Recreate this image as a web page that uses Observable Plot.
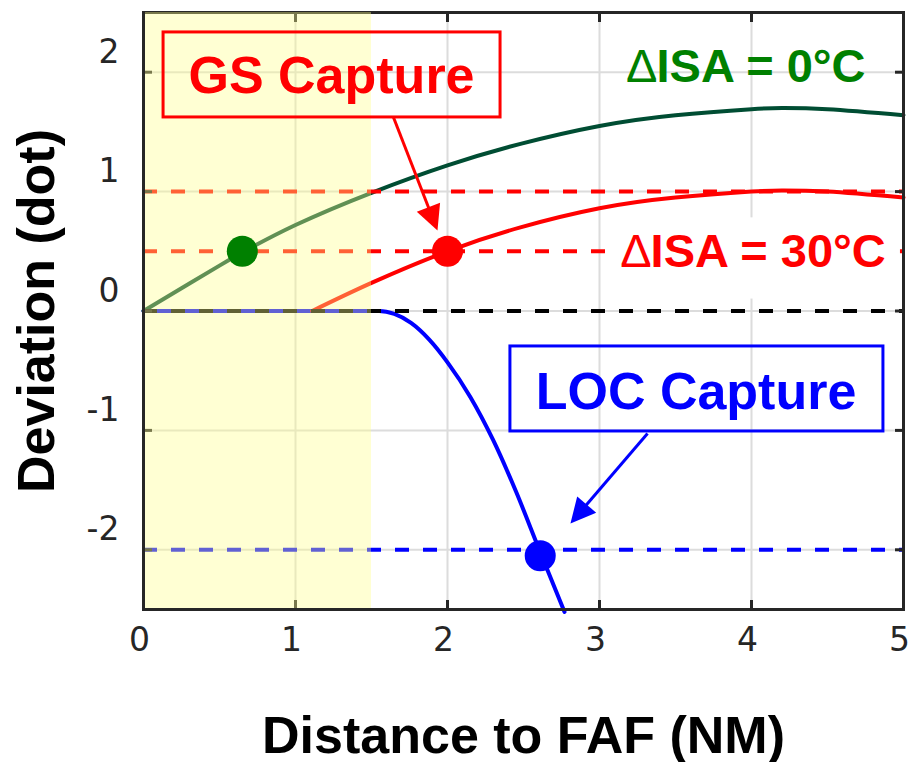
<!DOCTYPE html>
<html><head><meta charset="utf-8">
<script src="https://cdn.jsdelivr.net/npm/d3@7"></script>
<script src="https://cdn.jsdelivr.net/npm/@observablehq/plot@0.6"></script>
<style>body{margin:0;background:#fff} svg{display:block}</style>
</head><body><div id="chart"></div>
<script>
// ---- data ----
const xDomain = [0, 5];
const yDomain = [-2.5, 2.5];
const xTicks = [0, 1, 2, 3, 4, 5];
const yTicks = [-2, -1, 0, 1, 2];
const gridXValues = [1, 2, 3, 4];
const gridYValues = [-2, -1, 0, 1, 2];

// Delta ISA = 0 C trajectory
const isa0X = [0, 0.25, 0.5, 0.65, 1.0, 1.5, 2.0, 2.48, 3.0, 3.5, 4.0, 4.2, 4.5, 5.0];
const isa0Y = [0, 0.19, 0.38, 0.49, 0.72, 0.99, 1.22, 1.40, 1.55, 1.64, 1.69, 1.70, 1.69, 1.64];
// Delta ISA = 30 C trajectory
const isa30X = [1.11, 1.5, 2.0, 2.48, 3.0, 3.5, 4.0, 4.2, 4.5, 5.0];
const isa30Y = [0, 0.235, 0.5, 0.70, 0.86, 0.95, 1.0, 1.01, 1.0, 0.95];
// Localizer deviation
const locX = [0, 1.0, 1.55, 1.65, 1.76, 1.88, 2.0, 2.15, 2.30, 2.45, 2.61, 2.77];
const locY = [0, 0, 0, -0.025, -0.10, -0.24, -0.43, -0.72, -1.08, -1.51, -2.02, -2.52];

// dashed threshold lines
const thresholdY = [1.0, 0.5, -2.0, 0];
const thresholdColor = ["#ff0000", "#ff0000", "#0000ff", "#000000"];

// capture points
const captureX = [0.65, 2.0, 2.61];
const captureY = [0.5, 0.5, -2.05];
const captureColor = ["#008000", "#ff0000", "#0000ff"];

// shaded region
const shadeX = [0, 1.5];

// annotations
const boxNames = ["GS Capture", "LOC Capture"];
const boxColor = ["#ff0000", "#0000ff"];
const boxX1 = [0.132, 2.414], boxX2 = [2.349, 4.868];
const boxY1 = [1.621, -1.009], boxY2 = [2.333, -0.297];
const boxTextX = [1.237, 3.635], boxTextY = [1.822, -0.817];
const arrowStartX = [1.645, 3.316], arrowStartY = [1.621, -1.026];
const arrowTipX = [1.934, 2.809], arrowTipY = [0.674, -1.780];

const isaLabels = ["ISA = 0°C", "ISA = 30°C"];
const isaColor = ["#008000", "#ff0000"];
const isaX = [3.375, 3.336];
const isaY = [1.914, 0.367];
const isaBgX = [3.06, 4.98], isaBgY = [0.10, 0.78];

// ---- layout ----
const W = 911, H = 762, mL = 143, mR = 8, mT = 12, mB = 153;
const kx = (W - mL - mR) / (xDomain[1] - xDomain[0]);
const ky = (H - mT - mB) / (yDomain[1] - yDomain[0]);

const pts = (xs, ys) => xs.map((x, i) => ({x, y: ys[i]}));
const thresholds = thresholdY.map((y, i) => ({y, c: thresholdColor[i]}));
const captures = captureX.map((x, i) => ({x, y: captureY[i], c: captureColor[i]}));
const boxes = boxNames.map((t, i) => ({t, c: boxColor[i], x1: boxX1[i], x2: boxX2[i], y1: boxY1[i], y2: boxY2[i], tx: boxTextX[i], ty: boxTextY[i]}));
const headLen = 24;
const arrows = boxNames.map((t, i) => {
  const dxp = (arrowTipX[i] - arrowStartX[i]) * kx;
  const dyp = -(arrowTipY[i] - arrowStartY[i]) * ky;
  const len = Math.hypot(dxp, dyp);
  const f = 1 - (headLen - 2) / len;
  return {c: boxColor[i], x1: arrowStartX[i], y1: arrowStartY[i],
    x2: arrowStartX[i] + (arrowTipX[i] - arrowStartX[i]) * f,
    y2: arrowStartY[i] + (arrowTipY[i] - arrowStartY[i]) * f,
    tx: arrowTipX[i], ty: arrowTipY[i],
    rot: Math.atan2(dxp, -dyp) * 180 / Math.PI};
});
const isaTexts = isaLabels.map((t, i) => ({t, c: isaColor[i], x: isaX[i], y: isaY[i]}));

const arrowHead = {
  draw(ctx, size) {
    const r = Math.sqrt(size / Math.PI);
    const w = 2.6 * r, h = 2.6 * r;
    ctx.moveTo(0, 0); ctx.lineTo(-w / 2, h); ctx.lineTo(w / 2, h); ctx.closePath();
  }
};

const AX = "#262626";
const SANS = "Liberation Sans, Arial, sans-serif";
const TICKFONT = "DejaVu Sans, Verdana, sans-serif";

const chart = Plot.plot({
  width: W, height: H,
  marginLeft: mL, marginRight: mR, marginTop: mT, marginBottom: mB,
  style: {fontFamily: TICKFONT, fontSize: "33px", color: AX, background: "#fff", overflow: "visible"},
  x: {domain: xDomain},
  y: {domain: yDomain},
  marks: [
    Plot.gridX(gridXValues, {stroke: "#dcdcdc", strokeOpacity: 1, strokeWidth: 2}),
    Plot.gridY(gridYValues, {stroke: "#dcdcdc", strokeOpacity: 1, strokeWidth: 2}),
    Plot.line(pts(locX, locY), {x: "x", y: "y", stroke: "#0000ff", strokeWidth: 4, curve: "monotone-x"}),
    Plot.line(pts(isa0X, isa0Y), {x: "x", y: "y", stroke: "#004d33", strokeWidth: 4, curve: "natural"}),
    Plot.line(pts(isa30X, isa30Y), {x: "x", y: "y", stroke: "#ff0000", strokeWidth: 4, curve: "natural"}),
    Plot.ruleY(thresholds, {y: "y", stroke: "c", strokeWidth: 4, strokeDasharray: "14,14"}),
    // inward ticks on all sides
    Plot.axisX(xTicks, {anchor: "bottom", tickSize: -9, tickFormat: () => "", label: null, stroke: AX, strokeWidth: 3}),
    Plot.axisX(xTicks, {anchor: "top", tickSize: -9, tickFormat: () => "", label: null, stroke: AX, strokeWidth: 3}),
    Plot.axisY(yTicks, {anchor: "left", tickSize: -9, tickFormat: () => "", label: null, stroke: AX, strokeWidth: 3}),
    Plot.axisY(yTicks, {anchor: "right", tickSize: -9, tickFormat: () => "", label: null, stroke: AX, strokeWidth: 3}),
    Plot.frame({stroke: AX, strokeWidth: 3}),
    // shaded zone
    Plot.rect([{x1: shadeX[0], x2: shadeX[1], y1: yDomain[0], y2: yDomain[1]}], {x1: "x1", x2: "x2", y1: "y1", y2: "y2", fill: "#ffff8c", fillOpacity: 0.38}),
    Plot.ruleX([xDomain[0]], {stroke: AX, strokeWidth: 3}),
    Plot.ruleY([yDomain[0]], {stroke: AX, strokeWidth: 3}),
    // tick labels
    Plot.axisX(xTicks, {anchor: "bottom", tickSize: 0, tickPadding: 18, dx: -4, tickFormat: d => String(d), label: null, fill: AX, fontSize: 33, fontFamily: TICKFONT}),
    Plot.axisY(yTicks, {anchor: "left", tickSize: 0, tickPadding: 24, dy: -20, tickFormat: d => String(d), label: null, fill: AX, fontSize: 33, fontFamily: TICKFONT}),
    // capture dots
    Plot.dot(captures, {x: "x", y: "y", r: 15.5, fill: "c", stroke: null}),
    // label background for ISA 30
    Plot.rect([{x1: isaBgX[0], x2: isaBgX[1], y1: isaBgY[0], y2: isaBgY[1]}], {x1: "x1", x2: "x2", y1: "y1", y2: "y2", fill: "#ffffff"}),
    // ISA labels: thin Delta + bold text
    Plot.text(isaTexts, {x: "x", y: "y", text: () => "\u0394", fill: "c", fontSize: 47, fontFamily: SANS, fontWeight: "normal", textAnchor: "end", lineAnchor: "bottom", dx: 1}),
    Plot.text(isaTexts, {x: "x", y: "y", text: "t", fill: "c", fontSize: 47, fontFamily: SANS, fontWeight: "bold", textAnchor: "start", lineAnchor: "bottom"}),
    // annotation boxes
    Plot.rect(boxes, {x1: "x1", x2: "x2", y1: "y1", y2: "y2", fill: "none", stroke: "c", strokeWidth: 3}),
    Plot.text(boxes, {x: "tx", y: "ty", text: "t", fill: "c", fontSize: 52, fontFamily: SANS, fontWeight: "bold", textAnchor: "middle", lineAnchor: "bottom"}),
    Plot.link(arrows, {x1: "x1", y1: "y1", x2: "x2", y2: "y2", stroke: "c", strokeWidth: 3}),
    Plot.dot(arrows, {x: "tx", y: "ty", symbol: arrowHead, r: 9.6, fill: "c", stroke: null, rotate: "rot"}),
    // axis titles
    Plot.text(["Distance to FAF (NM)"], {frameAnchor: "bottom", dy: 143, lineAnchor: "bottom", textAnchor: "middle", fontSize: 52, fontWeight: "bold", fontFamily: SANS, fill: "#000"}),
    Plot.text(["Deviation (dot)"], {frameAnchor: "left", dx: -90, rotate: -90, lineAnchor: "bottom", textAnchor: "middle", fontSize: 52, fontWeight: "bold", fontFamily: SANS, fill: "#000"})
  ]
});
document.getElementById("chart").appendChild(chart);
</script>
</body></html>
